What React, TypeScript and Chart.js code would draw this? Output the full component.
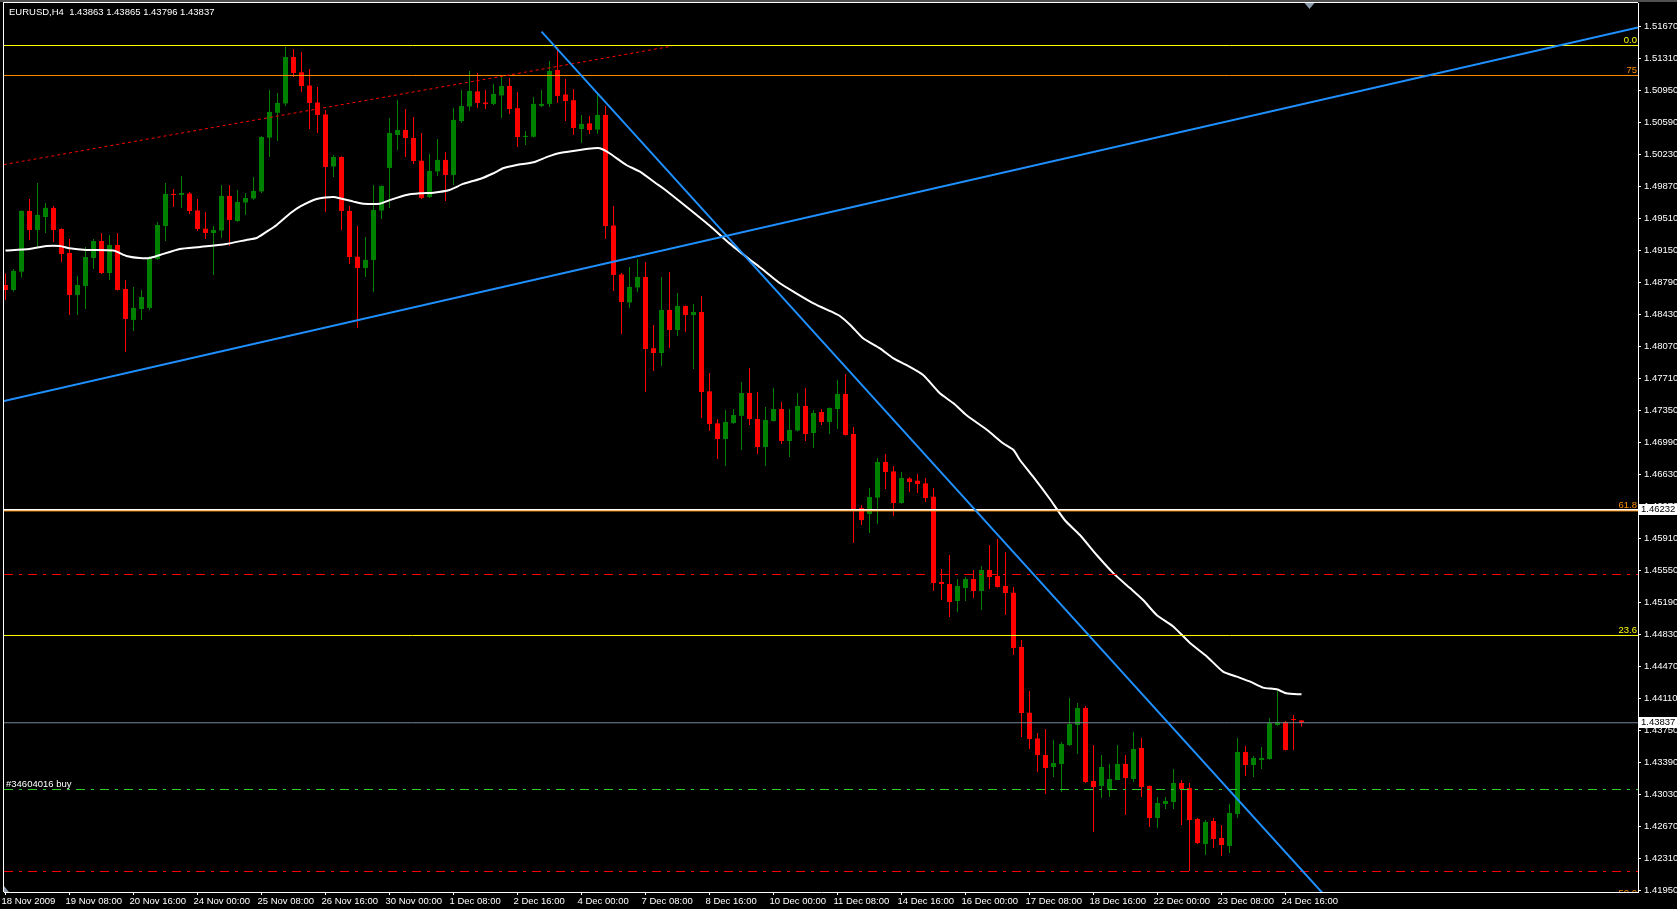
import React, { useEffect, useRef } from 'react';
import { Chart, registerables } from 'chart.js';

Chart.register(...registerables);

// ---------------- data ----------------
const SYMBOL = 'EURUSD';
const TIMEFRAME = 'H4';

const opens = [
  1.48762, 1.48706, 1.48912, 1.49595, 1.49381, 1.49527, 1.49629, 1.49392, 1.49122, 1.48650,
  1.48751, 1.49066, 1.49257, 1.48897, 1.49212, 1.48717, 1.48369, 1.48492, 1.48504, 1.49055,
  1.49426, 1.49786, 1.49775, 1.49790, 1.49600, 1.49395, 1.49347, 1.49375, 1.49764, 1.49482,
  1.49690, 1.49735, 1.49815, 1.50420, 1.50700, 1.50805, 1.51327, 1.51155, 1.51005, 1.50815,
  1.50680, 1.50095, 1.50202, 1.49595, 1.49080, 1.48954, 1.49044, 1.49600, 1.50079, 1.50450,
  1.50506, 1.50416, 1.50160, 1.49752, 1.50040, 1.50169, 1.50000, 1.50607, 1.50770, 1.50940,
  1.50815, 1.50799, 1.50895, 1.51001, 1.50750, 1.50427, 1.50430, 1.50776, 1.50799, 1.51181,
  1.50905, 1.50840, 1.50517, 1.50580, 1.50510, 1.50675, 1.49430, 1.48880, 1.48565, 1.48735,
  1.48852, 1.48050, 1.47997, 1.48481, 1.48256, 1.48526, 1.48424, 1.48458, 1.47565, 1.47205,
  1.47029, 1.47209, 1.47290, 1.47547, 1.47254, 1.46939, 1.47232, 1.47367, 1.47007, 1.47125,
  1.47401, 1.47097, 1.47333, 1.47221, 1.47367, 1.47536, 1.47086, 1.46253, 1.46186, 1.46370,
  1.46771, 1.46665, 1.46309, 1.46585, 1.46560, 1.46530, 1.46380, 1.45421, 1.45398, 1.45207,
  1.45353, 1.45454, 1.45319, 1.45556, 1.45488, 1.45376, 1.45300, 1.44690, 1.43950, 1.43660,
  1.43474, 1.43339, 1.43373, 1.43587, 1.43812, 1.44003, 1.43182, 1.43126, 1.43081, 1.43193,
  1.43373, 1.43204, 1.43553, 1.43126, 1.42766, 1.42923, 1.42946, 1.43159, 1.43103, 1.42754,
  1.42473, 1.42732, 1.42541, 1.42451, 1.42811, 1.43508, 1.43362, 1.43418, 1.43429, 1.43812,
  1.43846, 1.43879, 1.43863,
];
const highs = [
  1.48893, 1.48942, 1.49600, 1.49730, 1.49910, 1.49685, 1.49651, 1.49400, 1.49280, 1.48864,
  1.49190, 1.49280, 1.49347, 1.49325, 1.49347, 1.48819, 1.48740, 1.48706, 1.49089, 1.49471,
  1.49910, 1.49842, 1.49989, 1.49809, 1.49730, 1.49584, 1.49426, 1.49887, 1.49887, 1.49831,
  1.49797, 1.49977, 1.50439, 1.50956, 1.50922, 1.51440, 1.51417, 1.51384, 1.51192, 1.50990,
  1.50731, 1.50225, 1.50210, 1.49651, 1.49426, 1.49302, 1.49887, 1.49880, 1.50641, 1.50844,
  1.50742, 1.50652, 1.50472, 1.50236, 1.50405, 1.50259, 1.50754, 1.50956, 1.51170, 1.51147,
  1.50956, 1.51024, 1.51102, 1.51091, 1.50934, 1.50495, 1.50877, 1.50956, 1.51282, 1.51440,
  1.51080, 1.50967, 1.50675, 1.50664, 1.50922, 1.50776, 1.49651, 1.48897, 1.48965, 1.49055,
  1.49021, 1.48312, 1.48852, 1.48908, 1.48672, 1.48530, 1.48548, 1.48638, 1.47772, 1.47254,
  1.47356, 1.47367, 1.47671, 1.47828, 1.47558, 1.47389, 1.47603, 1.47446, 1.47367, 1.47547,
  1.47603, 1.47356, 1.47367, 1.47385, 1.47693, 1.47761, 1.47164, 1.46287, 1.46478, 1.46816,
  1.46861, 1.46726, 1.46658, 1.46600, 1.46636, 1.46591, 1.46478, 1.45567, 1.45724, 1.45454,
  1.45477, 1.45556, 1.45601, 1.45837, 1.45904, 1.45758, 1.45364, 1.44768, 1.44194, 1.43722,
  1.43767, 1.43643, 1.43621, 1.44116, 1.44059, 1.44026, 1.43587, 1.43474, 1.43373, 1.43587,
  1.43474, 1.43733, 1.43666, 1.43130, 1.43002, 1.43002, 1.43317, 1.43193, 1.43159, 1.42766,
  1.42743, 1.42766, 1.42687, 1.42923, 1.43666, 1.43576, 1.43463, 1.43564, 1.43891, 1.44194,
  1.43857, 1.43924, 1.43865,
];
const lows = [
  1.48593, 1.48687, 1.48845, 1.49269, 1.49175, 1.49347, 1.49246, 1.49021, 1.48425, 1.48425,
  1.48492, 1.48942, 1.48886, 1.48819, 1.48700, 1.48009, 1.48245, 1.48369, 1.48481, 1.49044,
  1.49257, 1.49640, 1.49629, 1.49561, 1.49370, 1.49280, 1.48875, 1.49291, 1.49201, 1.49471,
  1.49550, 1.49719, 1.49797, 1.50202, 1.50382, 1.50776, 1.51102, 1.50934, 1.50517, 1.50472,
  1.49584, 1.49977, 1.49381, 1.48999, 1.48279, 1.48852, 1.48684, 1.49505, 1.49629, 1.50281,
  1.50202, 1.50124, 1.49730, 1.49741, 1.49989, 1.49707, 1.49887, 1.50585, 1.50720, 1.50754,
  1.50742, 1.50787, 1.50641, 1.50686, 1.50315, 1.50337, 1.50420, 1.50765, 1.50765, 1.50810,
  1.50607, 1.50450, 1.50360, 1.50461, 1.50461, 1.49280, 1.48695, 1.48211, 1.48504, 1.48684,
  1.47559, 1.47794, 1.47851, 1.48053, 1.48188, 1.48233, 1.47817, 1.47266, 1.47119, 1.46804,
  1.46726, 1.47198, 1.46906, 1.47187, 1.46861, 1.46726, 1.47225, 1.46973, 1.46827, 1.47115,
  1.47007, 1.46928, 1.47187, 1.47086, 1.47142, 1.47070, 1.45859, 1.46062, 1.45972, 1.46073,
  1.46467, 1.46163, 1.46300, 1.46433, 1.46422, 1.46321, 1.45319, 1.45218, 1.45027, 1.45083,
  1.45207, 1.45241, 1.45106, 1.45342, 1.45360, 1.45049, 1.44599, 1.43677, 1.43542, 1.43283,
  1.43036, 1.43227, 1.43058, 1.43576, 1.43486, 1.43159, 1.42608, 1.42991, 1.43002, 1.43190,
  1.42799, 1.43171, 1.43002, 1.42664, 1.42653, 1.42867, 1.42867, 1.42687, 1.42169, 1.42473,
  1.42349, 1.42428, 1.42338, 1.42372, 1.42766, 1.43238, 1.43227, 1.43317, 1.43420, 1.43801,
  1.43525, 1.43531, 1.43796,
];
const closes = [
  1.48706, 1.48920, 1.49595, 1.49381, 1.49550, 1.49629, 1.49381, 1.49111, 1.48650, 1.48762,
  1.49077, 1.49257, 1.48897, 1.49212, 1.48706, 1.48380, 1.48504, 1.48627, 1.49066, 1.49437,
  1.49786, 1.49775, 1.49797, 1.49595, 1.49392, 1.49347, 1.49381, 1.49764, 1.49494, 1.49696,
  1.49741, 1.49820, 1.50427, 1.50709, 1.50810, 1.51327, 1.51147, 1.51001, 1.50810, 1.50675,
  1.50090, 1.50202, 1.49595, 1.49077, 1.48954, 1.49044, 1.49606, 1.49876, 1.50472, 1.50506,
  1.50416, 1.50157, 1.49741, 1.50045, 1.50169, 1.50000, 1.50619, 1.50776, 1.50945, 1.50810,
  1.50799, 1.50911, 1.51001, 1.50742, 1.50427, 1.50439, 1.50799, 1.50799, 1.51170, 1.50889,
  1.50832, 1.50528, 1.50574, 1.50506, 1.50675, 1.49426, 1.48875, 1.48571, 1.48740, 1.48852,
  1.48042, 1.47997, 1.48481, 1.48256, 1.48526, 1.48424, 1.48458, 1.47558, 1.47198, 1.47029,
  1.47221, 1.47299, 1.47547, 1.47254, 1.46939, 1.47243, 1.47367, 1.47007, 1.47131, 1.47401,
  1.47086, 1.47322, 1.47221, 1.47378, 1.47536, 1.47074, 1.46242, 1.46118, 1.46377, 1.46771,
  1.46658, 1.46309, 1.46591, 1.46546, 1.46523, 1.46366, 1.45409, 1.45398, 1.45196, 1.45376,
  1.45454, 1.45319, 1.45556, 1.45477, 1.45364, 1.45297, 1.44678, 1.43947, 1.43654, 1.43474,
  1.43328, 1.43384, 1.43598, 1.43823, 1.44003, 1.43171, 1.43114, 1.43339, 1.43204, 1.43373,
  1.43216, 1.43542, 1.43114, 1.42766, 1.42934, 1.42957, 1.43159, 1.43092, 1.42743, 1.42484,
  1.42721, 1.42529, 1.42462, 1.42822, 1.43508, 1.43362, 1.43441, 1.43441, 1.43834, 1.43846,
  1.43531, 1.43868, 1.43837,
];

// moving average (bar position, value)
const maBars = [
  0, 3, 5.1, 6.8, 8, 10.1, 13.5, 15.1, 16.8, 18, 19.3, 21.8, 24.3, 27.6, 30.1, 31.4, 32.6, 33.9,
  35.6, 36.8, 38.9, 41, 43.5, 44.7, 46.8, 48.1, 50.1, 51.8, 53.5, 55.5, 57.2, 59.3, 61, 62.2,
  63.9, 66, 67.8, 69.3, 71.8, 73.5, 74.3, 75.5, 77.6, 79.3, 81.3, 82.2, 85, 88, 90.5, 93.1,
  94.3, 96.8, 98.5, 101, 103.5, 104.3, 105.6, 107.2, 109.3, 111, 112.6, 114.7, 116.8, 118.5,
  120.1, 122.7, 124.7, 126, 126.8, 128.5, 130.5, 132.4, 134.3, 136.4, 138.5, 140.6, 142.2,
  143.9, 146, 148.1, 150.2, 152.2, 153.9, 155.6, 157.2, 158.9, 160.1, 162,
];
const maValues = [
  1.49149, 1.49167, 1.49201, 1.49201, 1.49175, 1.49156, 1.49149, 1.49089, 1.49066, 1.49066,
  1.49100, 1.49167, 1.49190, 1.49224, 1.49269, 1.49291, 1.49359, 1.49437, 1.49569, 1.49644,
  1.49730, 1.49752, 1.49700, 1.49677, 1.49677, 1.49719, 1.49775, 1.49794, 1.49801, 1.49831,
  1.49899, 1.49955, 1.50019, 1.50075, 1.50112, 1.50142, 1.50206, 1.50247, 1.50281, 1.50300,
  1.50300, 1.50244, 1.50112, 1.50037, 1.49906, 1.49850, 1.49650, 1.49430, 1.49230, 1.49043,
  1.48961, 1.48781, 1.48687, 1.48556, 1.48451, 1.48413, 1.48312, 1.48162, 1.48049, 1.47937,
  1.47862, 1.47749, 1.47543, 1.47431, 1.47299, 1.47131, 1.46981, 1.46906, 1.46793, 1.46600,
  1.46360, 1.46118, 1.45949, 1.45724, 1.45518, 1.45349, 1.45218, 1.45049, 1.44918, 1.44731,
  1.44581, 1.44412, 1.44356, 1.44299, 1.44232, 1.44213, 1.44168, 1.44157,
];

// trend lines: [barA, priceA, barB, priceB]
const supportLine = [-0.19, 1.47457, 204.06, 1.51660];
const resistanceLine = [67.0, 1.51612, 170, 1.41388];
const channelLine = [-0.19, 1.50117, 83.3, 1.51449];

// fibonacci levels
const fibNames = ['0.0', '75', '61.8', '23.6', '50.0'];
const fibPrices = [1.51456, 1.51119, 1.46220, 1.44819, 1.41860];

// horizontal lines
const keyLevel = 1.46232;
const bidPrice = 1.43837;
const orderPrice = 1.43086;
const orderLabel = '#34604016 buy';
const stopLevels = [1.45505, 1.42164];

const xTickLabels = [
  '18 Nov 2009', '19 Nov 08:00', '20 Nov 16:00', '24 Nov 00:00', '25 Nov 08:00', '26 Nov 16:00',
  '30 Nov 00:00', '1 Dec 08:00', '2 Dec 16:00', '4 Dec 00:00', '7 Dec 08:00', '8 Dec 16:00',
  '10 Dec 00:00', '11 Dec 08:00', '14 Dec 16:00', '16 Dec 00:00', '17 Dec 08:00', '18 Dec 16:00',
  '22 Dec 00:00', '23 Dec 08:00', '24 Dec 16:00',
];
const BARS_PER_LABEL = 8;

const yTicks = [
  1.41950, 1.42310, 1.42670, 1.43030, 1.43390, 1.43750, 1.44110, 1.44470, 1.44830, 1.45190,
  1.45550, 1.45910, 1.46270, 1.46630, 1.46990, 1.47350, 1.47710, 1.48070, 1.48430, 1.48790,
  1.49150, 1.49510, 1.49870, 1.50230, 1.50590, 1.50950, 1.51310, 1.51670,
];

// ---------------- view settings ----------------
const W = 1677;
const H = 909;
const Y_MIN = 1.4193313;
const Y_MAX = 1.5193438;
const X_MIN = -0.1875;
const X_MAX = 204.0625;
const SHIFT_MARK_BAR = 163;
const FONT_FAMILY = '"Liberation Sans", Arial, sans-serif';
const FONT_SIZE = 9.5;
const FONT = `${FONT_SIZE}px ${FONT_FAMILY}`;

const UP = '#008000';
const DOWN = '#ff0000';
const YELLOW = '#ffff00';
const ORANGE = '#ff8c00';
const fibColors = [YELLOW, ORANGE, ORANGE, YELLOW, ORANGE];
const DASHDOT = [9, 6, 3, 6];

function hLine(value: number, color: string, width: number, dash: number[] = []) {
  return {
    type: 'line' as const,
    data: [{ x: X_MIN, y: value }, { x: X_MAX, y: value }],
    borderColor: color,
    borderWidth: width,
    borderDash: dash,
    pointRadius: 0,
    order: 1,
    clip: 0,
  };
}

function segment(s: number[], color: string, width: number, dash: number[] = []) {
  return {
    type: 'line' as const,
    data: [{ x: s[0], y: s[1] }, { x: s[2], y: s[3] }],
    borderColor: color,
    borderWidth: width,
    borderDash: dash,
    pointRadius: 0,
    order: 0,
    clip: 0,
  };
}

const decorPlugin = {
  id: 'mt4decor',
  beforeDraw(chart: any) {
    const { ctx, chartArea: a } = chart;
    ctx.save();
    ctx.fillStyle = '#000000';
    ctx.fillRect(0, 0, chart.width, chart.height);
    ctx.fillStyle = '#505050';
    ctx.fillRect(0, 0, chart.width, 2);
    ctx.fillStyle = '#ffffff';
    ctx.fillRect(a.left - 1, 2, a.right - a.left + 1, 1);
    ctx.fillRect(a.left - 1, 2, 1, a.bottom - 2);
    ctx.restore();
  },
  afterDraw(chart: any) {
    const { ctx, chartArea: a } = chart;
    const y = chart.scales.y;
    const x = chart.scales.x;
    ctx.save();
    ctx.font = FONT;

    // fibo level captions
    ctx.save();
    ctx.beginPath();
    ctx.rect(a.left, a.top, a.right - a.left, a.bottom - a.top);
    ctx.clip();
    ctx.textAlign = 'right';
    ctx.textBaseline = 'alphabetic';
    fibNames.forEach((n, i) => {
      ctx.fillStyle = fibColors[i];
      ctx.fillText(n, a.right - 1, y.getPixelForValue(fibPrices[i]) - 2.5);
    });
    ctx.restore();

    // header
    const last = opens.length - 1;
    const header = `${SYMBOL},${TIMEFRAME}  ${opens[last].toFixed(5)} ${highs[last].toFixed(5)} ${lows[last].toFixed(5)} ${closes[last].toFixed(5)}`;
    ctx.fillStyle = '#ffffff';
    ctx.textAlign = 'left';
    ctx.textBaseline = 'alphabetic';
    ctx.fillText(header, 9, 15);

    // order label
    ctx.fillText(orderLabel, 6, y.getPixelForValue(orderPrice) - 2.5);

    // price boxes on the axis
    [keyLevel, bidPrice].forEach((v) => {
      const py = y.getPixelForValue(v);
      ctx.fillStyle = '#ffffff';
      ctx.fillRect(a.right + 1, Math.round(py) - 6, W - a.right - 1, 11);
      ctx.fillStyle = '#000000';
      ctx.textBaseline = 'middle';
      ctx.fillText(v.toFixed(5), a.right + 3, Math.round(py) - 0.5);
    });

    // chart shift marker
    const mx = x.getPixelForValue(SHIFT_MARK_BAR);
    ctx.fillStyle = '#8d9cad';
    ctx.beginPath();
    ctx.moveTo(mx - 5, 3);
    ctx.lineTo(mx + 5, 3);
    ctx.lineTo(mx, 9);
    ctx.closePath();
    ctx.fill();

    // corner marker
    ctx.beginPath();
    ctx.moveTo(a.left, a.bottom - 6);
    ctx.lineTo(a.left, a.bottom);
    ctx.lineTo(a.left + 5, a.bottom);
    ctx.closePath();
    ctx.fill();

    ctx.restore();
  },
};

export default function App() {
  const ref = useRef<HTMLCanvasElement | null>(null);

  useEffect(() => {
    if (!ref.current) return;
    document.body.style.margin = '0';
    document.body.style.background = '#000';

    const idx = opens.map((_, i) => i);
    const colorOf = (i: number) => (closes[i] > opens[i] ? UP : DOWN);

    const wicks = {
      type: 'bar' as const,
      data: idx.map((i) => ({ x: i, y: [lows[i], highs[i]] })),
      backgroundColor: idx.map(colorOf),
      borderWidth: 0,
      barThickness: 1,
      maxBarThickness: 1,
      minBarLength: 1,
      grouped: false,
      inflateAmount: 0,
      order: 3,
    };
    const bodies = {
      type: 'bar' as const,
      data: idx.map((i) => ({ x: i, y: [opens[i], closes[i]] })),
      backgroundColor: idx.map(colorOf),
      borderWidth: 0,
      barThickness: 5,
      maxBarThickness: 5,
      minBarLength: 1,
      grouped: false,
      inflateAmount: 0,
      order: 3,
    };
    const ma = {
      type: 'line' as const,
      data: maBars.map((b, i) => ({ x: b, y: maValues[i] })),
      borderColor: '#ffffff',
      borderWidth: 2,
      pointRadius: 0,
      tension: 0.2,
      order: 2,
      clip: 0,
    };

    const datasets: any[] = [
      wicks,
      bodies,
      ma,
      hLine(fibPrices[0], YELLOW, 1),
      hLine(fibPrices[1], ORANGE, 1),
      hLine(fibPrices[2], ORANGE, 1),
      hLine(keyLevel, '#ffffff', 2),
      hLine(fibPrices[3], YELLOW, 1),
      hLine(stopLevels[0], DOWN, 1, DASHDOT),
      hLine(stopLevels[1], DOWN, 1, DASHDOT),
      hLine(orderPrice, '#32cd32', 1, DASHDOT),
      hLine(bidPrice, '#778899', 1),
      segment(supportLine, '#1e90ff', 2),
      segment(resistanceLine, '#1e90ff', 2),
      segment(channelLine, DOWN, 1, [3, 3]),
    ];

    const chart = new Chart(ref.current, {
      type: 'bar',
      data: { datasets },
      options: {
        animation: false,
        responsive: false,
        devicePixelRatio: 1,
        events: [],
        layout: { autoPadding: false, padding: { left: 4, top: 3, right: 0, bottom: 0 } },
        plugins: { legend: { display: false }, tooltip: { enabled: false } },
        scales: {
          x: {
            type: 'linear',
            min: X_MIN,
            max: X_MAX,
            offset: false,
            position: 'bottom',
            afterFit: (s: any) => { s.height = H - 892; s.paddingLeft = 0; s.paddingRight = 0; },
            afterBuildTicks: (s: any) => {
              s.ticks = xTickLabels.map((_, i) => ({ value: i * BARS_PER_LABEL }));
            },
            grid: { display: true, drawOnChartArea: false, drawTicks: true, tickLength: 3, color: '#ffffff', offset: false },
            border: { display: true, color: '#ffffff', width: 1 },
            ticks: {
              autoSkip: false,
              maxRotation: 0,
              minRotation: 0,
              align: 'start',
              labelOffset: -4,
              padding: 1,
              color: '#ffffff',
              font: { family: FONT_FAMILY, size: FONT_SIZE },
              callback: (v: any) => xTickLabels[Math.round(Number(v) / BARS_PER_LABEL)] ?? '',
            },
          },
          y: {
            type: 'linear',
            min: Y_MIN,
            max: Y_MAX,
            position: 'right',
            afterFit: (s: any) => { s.width = W - 1638; s.paddingTop = 0; s.paddingBottom = 0; },
            afterBuildTicks: (s: any) => {
              s.ticks = yTicks.map((v) => ({ value: v }));
            },
            grid: { display: true, drawOnChartArea: false, drawTicks: true, tickLength: 3, color: '#ffffff' },
            border: { display: true, color: '#ffffff', width: 1 },
            ticks: {
              autoSkip: false,
              padding: 3,
              color: '#ffffff',
              font: { family: FONT_FAMILY, size: FONT_SIZE },
              callback: (v: any) => Number(v).toFixed(5),
            },
          },
        },
      } as any,
      plugins: [decorPlugin],
    });

    return () => chart.destroy();
  }, []);

  return (
    <div style={{ position: 'fixed', left: 0, top: 0, width: W, height: H, background: '#000' }}>
      <canvas ref={ref} width={W} height={H} style={{ display: 'block', width: W, height: H }} />
    </div>
  );
}
